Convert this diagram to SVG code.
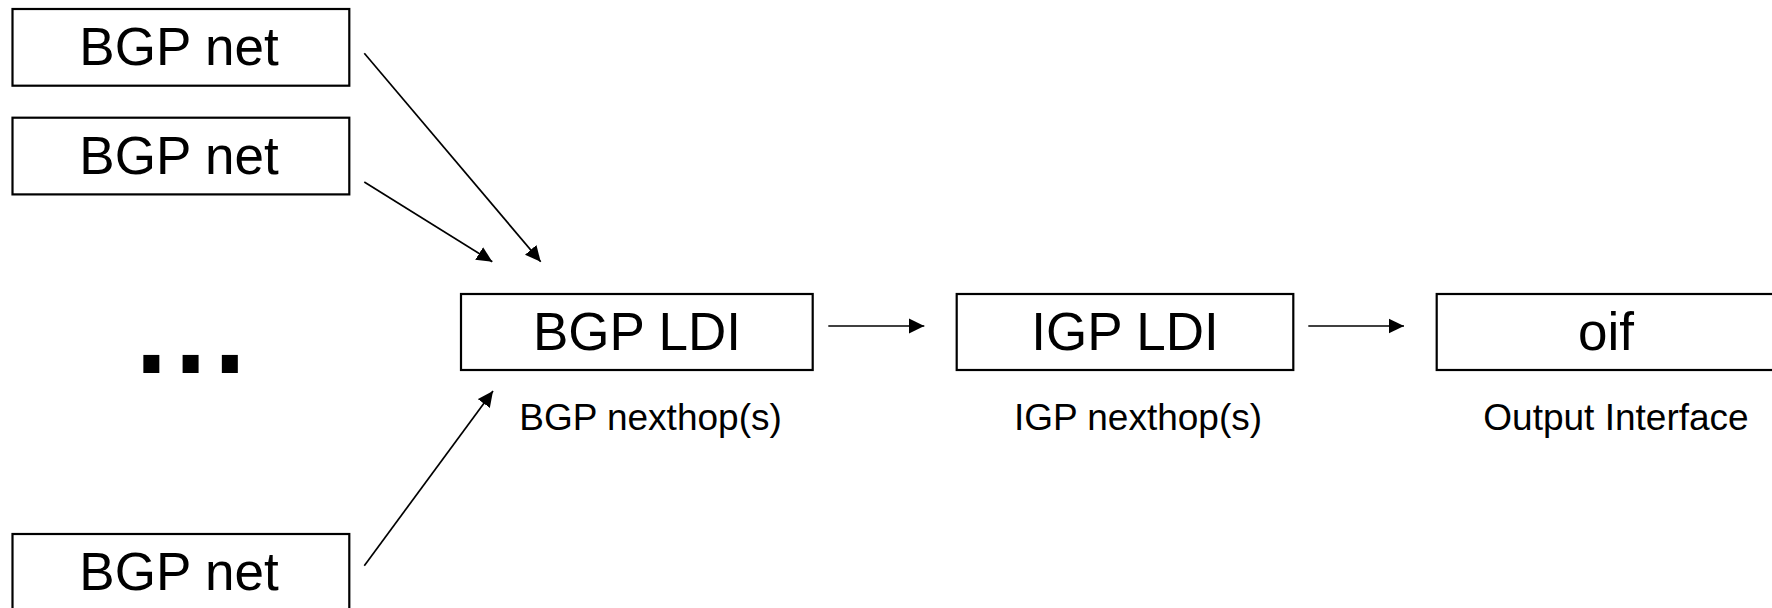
<svg xmlns="http://www.w3.org/2000/svg" width="1772" height="608" viewBox="0 0 1772 608">
<style>
.box{fill:#fff;stroke:#000;stroke-width:2.2}
.t{font-family:"Liberation Sans",Arial,sans-serif;font-size:53px;text-anchor:middle;fill:#000}
.s{font-family:"Liberation Sans",Arial,sans-serif;font-size:37px;text-anchor:middle;fill:#000}
.c{stroke:#000;stroke-width:1.7;fill:none;marker-end:url(#ah)}
</style>
<defs>
<marker id="ah" markerUnits="userSpaceOnUse" markerWidth="16" markerHeight="16" viewBox="0 0 16 16" refX="15.5" refY="8" orient="auto">
<path d="M0,0.5 L15.5,8 L0,15.5 Z" fill="#000"/>
</marker>
</defs>
<rect width="1772" height="608" fill="#fff"/>
<g id="bgpnet1"><rect class="box" x="12.5" y="9" width="336.8" height="76.7"/><text class="t" x="179" y="65">BGP net</text></g>
<g id="bgpnet2"><rect class="box" x="12.5" y="117.7" width="336.8" height="76.7"/><text class="t" x="179" y="173.7">BGP net</text></g>
<g id="bgpnet3"><rect class="box" x="12.5" y="534" width="336.8" height="90"/><text class="t" x="179" y="590">BGP net</text></g>
<g id="ellipsis"><text x="128" y="373.3" font-family="'Liberation Sans',Arial,sans-serif" font-size="168" letter-spacing="-7.4" fill="#000">...</text></g>
<g id="bgpldi"><rect class="box" x="461" y="294" width="351.7" height="76"/><text class="t" x="637" y="350">BGP LDI</text><text class="s" x="650.5" y="430">BGP nexthop(s)</text></g>
<g id="igpldi"><rect class="box" x="956.7" y="294" width="336.6" height="76"/><text class="t" x="1125" y="350">IGP LDI</text><text class="s" x="1138" y="430">IGP nexthop(s)</text></g>
<g id="oif"><rect class="box" x="1436.7" y="294" width="340" height="76"/><text class="t" x="1606" y="350">oif</text><text class="s" x="1616" y="430">Output Interface</text></g>
<g id="connectors">
<line class="c" x1="364.3" y1="53.3" x2="540.7" y2="261.7"/>
<line class="c" x1="364.3" y1="182" x2="492.3" y2="261.7"/>
<line class="c" x1="364.3" y1="565.7" x2="493" y2="391"/>
<line class="c" x1="828.3" y1="326" x2="924.3" y2="326"/>
<line class="c" x1="1308.3" y1="326" x2="1404" y2="326"/>
</g>
</svg>
